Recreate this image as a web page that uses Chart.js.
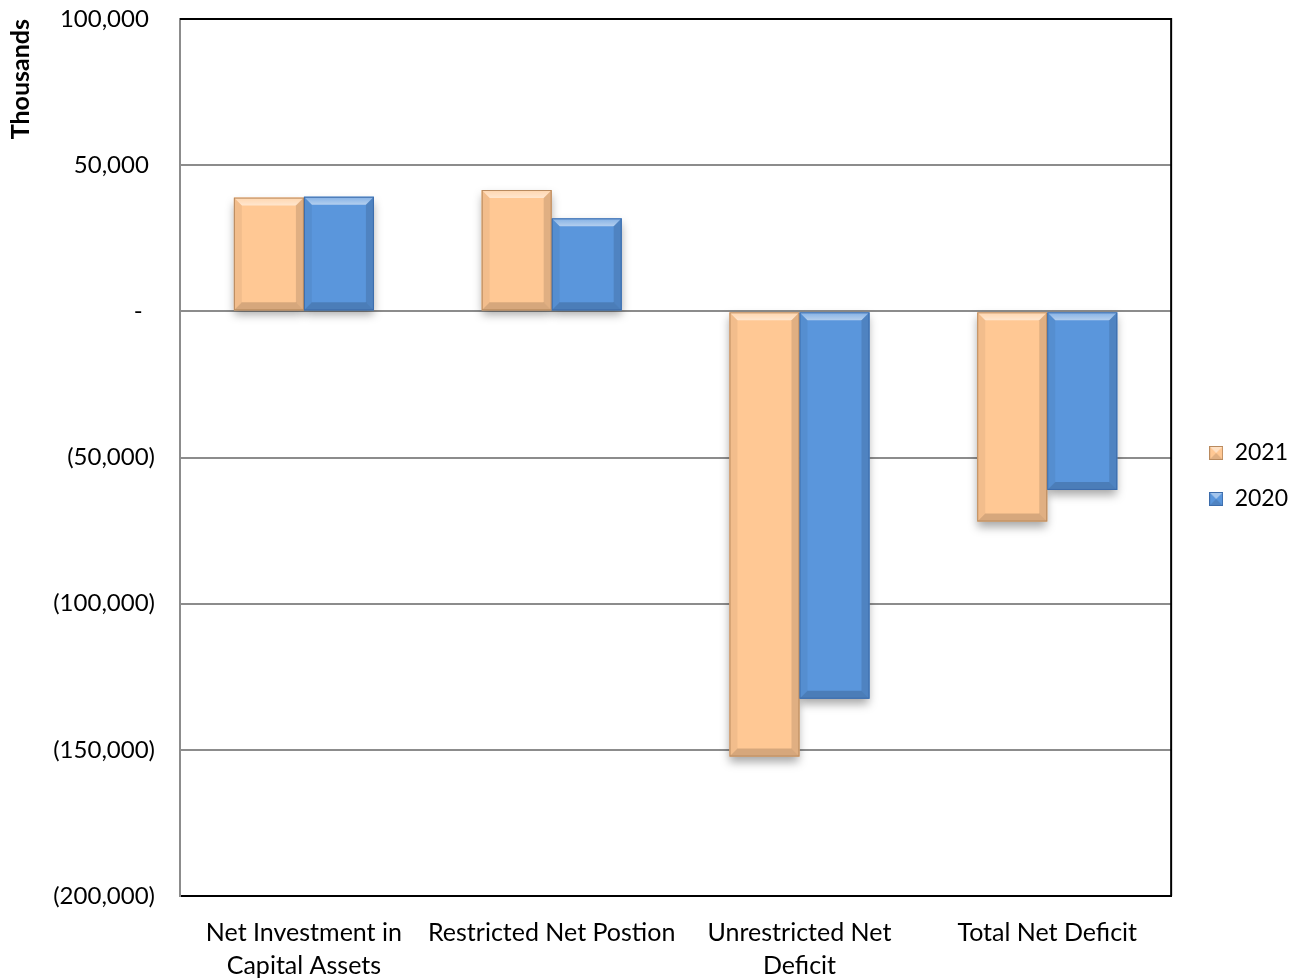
<!DOCTYPE html>
<html>
<head>
<meta charset="utf-8">
<title>Net Position</title>
<script src="https://cdn.jsdelivr.net/npm/chart.js@4.4.1/dist/chart.umd.min.js"></script>
<style>
  html, body { margin: 0; padding: 0; background: #ffffff; }
  #wrap { width: 1301px; height: 979px; }
</style>
</head>
<body>
<div id="wrap"><canvas id="chart" width="1301" height="979"></canvas></div>
<script>
// Net position components, in thousands of dollars
const categories = [
  ['Net Investment in', 'Capital Assets'],
  ['Restricted Net Postion'],
  ['Unrestricted Net', 'Deficit'],
  ['Total Net Deficit']
];
const years = ['2021', '2020'];
const values2021 = [38900, 41500, -152300, -71900];
const values2020 = [39200, 31800, -132500, -61100];

const yMin = -200000;
const yMax = 100000;
const yStep = 50000;

const fillColors = ['#FFC894', '#5A96DC'];
const edgeColors = ['#B98A5E', '#3C6CAB'];

// Accounting-style number labels: negatives in parentheses, zero as a dash
function formatTick(v) {
  if (v === 0) return '-  ';
  const s = Math.abs(v).toLocaleString('en-US');
  return v < 0 ? '(' + s + ')' : s + ' ';
}

// Small bevelled swatch used as the legend marker
function swatch(fill, edge) {
  const c = document.createElement('canvas');
  c.width = 14; c.height = 14;
  const g = c.getContext('2d');
  g.fillStyle = fill; g.fillRect(0, 0, 14, 14);
  g.fillStyle = 'rgba(255,255,255,0.45)';
  g.beginPath(); g.moveTo(0, 0); g.lineTo(14, 0); g.lineTo(7, 7); g.closePath(); g.fill();
  g.fillStyle = 'rgba(0,0,0,0.12)';
  g.beginPath(); g.moveTo(0, 14); g.lineTo(14, 14); g.lineTo(7, 7); g.closePath(); g.fill();
  g.strokeStyle = edge; g.lineWidth = 1; g.strokeRect(0.5, 0.5, 13, 13);
  return c;
}

function barBox(bar) {
  const p = bar.getProps(['x', 'y', 'base', 'width'], true);
  const l = p.x - p.width / 2;
  const t = Math.min(p.y, p.base);
  return { l, t, r: l + p.width, b: Math.max(p.y, p.base), w: p.width, h: Math.abs(p.base - p.y) };
}

// Drop shadows under bars and bevelled edges on top of them
const bevelPlugin = {
  id: 'bevel',
  beforeDatasetsDraw(chart) {
    const ctx = chart.ctx;
    chart.data.datasets.forEach((ds, i) => {
      chart.getDatasetMeta(i).data.forEach(bar => {
        const k = barBox(bar);
        ctx.save();
        ctx.shadowColor = 'rgba(0,0,0,0.35)';
        ctx.shadowBlur = 9;
        ctx.shadowOffsetY = 5;
        ctx.fillStyle = ds.backgroundColor;
        ctx.fillRect(k.l, k.t, k.w, k.h);
        ctx.restore();
      });
    });
  },
  afterDatasetsDraw(chart) {
    const ctx = chart.ctx;
    const bev = 8;
    chart.data.datasets.forEach((ds, i) => {
      chart.getDatasetMeta(i).data.forEach(bar => {
        const k = barBox(bar);
        const poly = (pts, style) => {
          ctx.beginPath();
          ctx.moveTo(pts[0][0], pts[0][1]);
          for (let j = 1; j < pts.length; j++) ctx.lineTo(pts[j][0], pts[j][1]);
          ctx.closePath();
          ctx.fillStyle = style;
          ctx.fill();
        };
        ctx.save();
        // top edge catches the light
        const gt = ctx.createLinearGradient(0, k.t, 0, k.t + bev);
        gt.addColorStop(0, 'rgba(255,255,255,0.25)');
        gt.addColorStop(1, 'rgba(255,255,255,0.55)');
        poly([[k.l, k.t], [k.r, k.t], [k.r - bev, k.t + bev], [k.l + bev, k.t + bev]], gt);
        // bottom edge in shade
        poly([[k.l, k.b], [k.r, k.b], [k.r - bev, k.b - bev], [k.l + bev, k.b - bev]], 'rgba(0,0,0,0.16)');
        // sides
        poly([[k.l, k.t], [k.l + bev, k.t + bev], [k.l + bev, k.b - bev], [k.l, k.b]], 'rgba(0,0,0,0.05)');
        poly([[k.r, k.t], [k.r - bev, k.t + bev], [k.r - bev, k.b - bev], [k.r, k.b]], 'rgba(0,0,0,0.12)');
        ctx.strokeStyle = edgeColors[i];
        ctx.lineWidth = 1;
        ctx.strokeRect(k.l + 0.5, k.t + 0.5, k.w - 1, k.h - 1);
        ctx.restore();
      });
    });
  }
};

// Dark frame on the top and right sides of the plot area;
// the legend block sits to the right, a little above the vertical centre
const framePlugin = {
  id: 'frame',
  afterLayout(chart) {
    const lg = chart.legend;
    if (lg) {
      lg.top -= 23;
      lg.bottom -= 23;
      lg.left += 15;
      lg.right += 15;
    }
  },
  afterDraw(chart) {
    const a = chart.chartArea;
    const ctx = chart.ctx;
    ctx.save();
    ctx.strokeStyle = '#000000';
    ctx.lineWidth = 2;
    ctx.beginPath();
    ctx.moveTo(a.left, a.top);
    ctx.lineTo(a.right, a.top);
    ctx.lineTo(a.right, a.bottom);
    ctx.stroke();
    ctx.restore();
  }
};

const fontFamily = 'Lato, "Open Sans", sans-serif';

new Chart(document.getElementById('chart'), {
  type: 'bar',
  data: {
    labels: categories,
    datasets: [
      {
        label: years[0],
        data: values2021,
        backgroundColor: fillColors[0],
        borderWidth: 0,
        pointStyle: swatch(fillColors[0], edgeColors[0])
      },
      {
        label: years[1],
        data: values2020,
        backgroundColor: fillColors[1],
        borderWidth: 0,
        pointStyle: swatch(fillColors[1], edgeColors[1])
      }
    ]
  },
  options: {
    responsive: false,
    animation: false,
    devicePixelRatio: 1,
    layout: { padding: { left: 6, top: 19, right: 18, bottom: 0 } },
    datasets: {
      bar: { barPercentage: 1.0, categoryPercentage: 0.565 }
    },
    scales: {
      x: {
        grid: { display: false },
        border: { display: true, color: '#000000', width: 2 },
        ticks: {
          color: '#000000',
          font: { family: fontFamily, size: 25, lineHeight: 1.32 },
          padding: 12,
          maxRotation: 0,
          autoSkip: false
        },
        afterFit(scale) {
          scale.height = 83;
          scale.paddingLeft = 0;
          scale.paddingRight = 0;
        }
      },
      y: {
        min: yMin,
        max: yMax,
        ticks: {
          stepSize: yStep,
          color: '#000000',
          font: { family: fontFamily, size: 24 },
          padding: 25,
          callback: v => formatTick(v)
        },
        grid: { color: '#8c8c8c', lineWidth: 2, drawTicks: false },
        border: { display: true, color: '#8c8c8c', width: 2 },
        title: {
          display: true,
          text: 'Thousands',
          align: 'end',
          color: '#000000',
          font: { family: fontFamily, size: 25, weight: 'bold' },
          padding: { top: 0, bottom: 6 }
        },
        afterFit(scale) {
          scale.width = 174;
          scale.paddingTop = 0;
          scale.paddingBottom = 0;
        }
      }
    },
    plugins: {
      legend: {
        position: 'right',
        labels: {
          usePointStyle: true,
          pointStyleWidth: 14,
          color: '#000000',
          font: { family: fontFamily, size: 23 },
          padding: 23
        }
      },
      tooltip: { enabled: false }
    }
  },
  plugins: [bevelPlugin, framePlugin]
});
</script>
</body>
</html>
